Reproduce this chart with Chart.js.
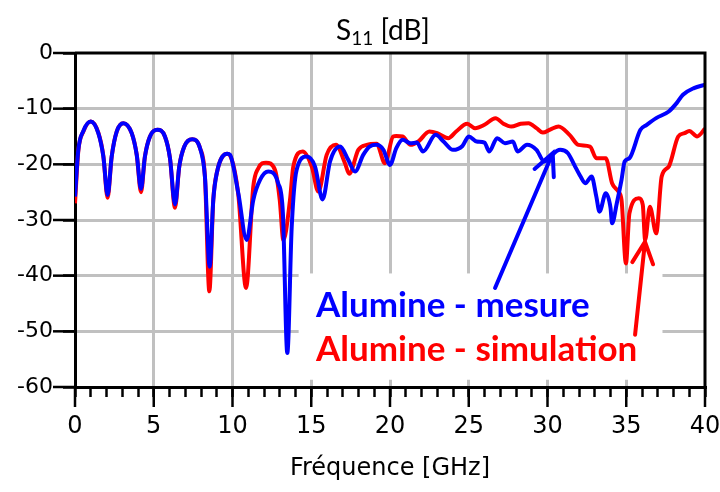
<!DOCTYPE html>
<html>
<head>
<meta charset="utf-8">
<script src="https://cdn.jsdelivr.net/npm/chart.js@4.4.1/dist/chart.umd.min.js"></script>
<style>
  html, body { margin: 0; padding: 0; background: #fff; }
  #wrap { width: 720px; height: 492px; }
</style>
</head>
<body>
<div id="wrap"><canvas id="s11_chart" width="720" height="492"></canvas></div>
<script>
// simulation (red)
const freqSim = [0, 0.21, 0.53, 1.0, 1.48, 1.8, 2.07, 2.33, 2.65, 3.07, 3.6, 3.92, 4.19, 4.44, 4.76, 5.23, 5.71, 6.03, 6.35,
  6.62, 6.94, 7.45, 7.94, 8.25, 8.53, 8.78, 9.0, 9.67, 9.84, 10.37, 10.86, 11.32, 11.64, 12.13, 12.7, 13.0, 13.23,
  13.65, 13.86, 14.46, 15.03, 15.45, 15.98, 16.57, 17.14, 17.41, 17.99, 18.52, 19.15, 19.68, 20.2, 20.4, 20.8, 21.3,
  21.8, 22.5, 23.0, 23.7, 24.2, 24.9, 25.4, 26.0, 26.7, 27.2, 27.7, 28.3, 28.8, 29.3, 29.7, 30.2, 30.7, 31.4, 31.96,
  32.7, 33.1, 33.7, 34.1, 34.5, 34.7, 34.98, 35.2, 35.8, 36.05, 36.2, 36.5, 36.9, 37.25, 37.7, 38.3, 38.7, 39.0, 39.5, 40];
const s11Sim = [-27, -17.6, -14.1, -12.3, -14.3, -18.5, -26.0, -18.6, -14.1, -12.6, -14.4, -18.3, -25.0, -18.6, -15.0, -13.8, -15.0, -18.9, -27.8,
  -20.4, -16.8, -15.5, -17.1, -22.2, -42.8, -26.4, -21.6, -18.1, -18.4, -25.5, -42.2, -24.0, -20.7, -19.7, -21.0, -26.4, -33.6,
  -26.4, -20.4, -17.7, -20.4, -24.9, -18.3, -16.5, -19.8, -21.7, -17.4, -16.5, -16.3, -19.8, -15.0, -14.9, -15.0, -16.5,
  -15.9, -14.1, -14.4, -15.3, -14.1, -12.7, -13.5, -12.9, -11.7, -12.7, -13.2, -12.7, -12.6, -13.5, -14.3, -13.7, -13.2, -14.7, -16.5,
  -16.8, -18.9, -18.9, -23.4, -24.9, -26.4, -37.8, -28.8, -26.1, -27.3, -33.6, -27.6, -32.4, -22.2, -20.4, -15.0, -14.4, -14.0, -15.0, -13.6];

// mesure (blue)
const freqMes = [0, 0.21, 0.53, 1.0, 1.48, 1.8, 2.07, 2.33, 2.65, 3.07, 3.6, 3.92, 4.19, 4.44, 4.76, 5.23, 5.71, 6.03, 6.35,
  6.62, 6.94, 7.45, 7.94, 8.25, 8.55, 8.78, 9.0, 9.67, 9.84, 10.37, 10.9, 11.32, 11.75, 12.27, 12.9, 13.2, 13.48,
  13.76, 14.07, 14.71, 15.24, 15.72, 16.19, 16.83, 17.35, 17.78, 18.3, 18.7, 19.15, 19.58, 20.0, 20.4, 20.8, 21.3,
  21.7, 22.1, 22.9, 23.4, 24.0, 24.6, 25.0, 25.5, 26.0, 26.3, 26.8, 27.3, 27.8, 28.1, 28.7, 29.3, 29.8, 30.1, 30.8,
  31.3, 31.7, 32.1, 32.4, 32.8, 33.1, 33.3, 33.7, 34.0, 34.1, 34.4, 34.7, 34.9, 35.2, 35.9, 36.3, 36.9, 37.7, 38.2,
  38.6, 39.3, 40];
const s11Mes = [-25.8, -17.4, -14.0, -12.3, -14.4, -18.6, -25.5, -18.6, -14.1, -12.6, -14.4, -18.3, -24.4, -18.6, -15.0, -13.8, -15.0, -18.9, -27.2,
  -20.4, -16.8, -15.5, -17.1, -22.2, -38.4, -26.4, -21.6, -18.1, -18.3, -25.2, -33.6, -26.4, -22.8, -21.3, -23.4, -28.8, -53.9,
  -31.2, -21.0, -18.6, -20.4, -26.3, -19.5, -16.8, -19.2, -21.3, -18.3, -16.8, -16.5, -17.4, -20.1, -17.1, -15.6, -16.2,
  -16.1, -17.7, -14.7, -15.9, -17.4, -16.7, -15.0, -15.9, -16.1, -17.7, -15.3, -16.2, -15.9, -17.7, -16.5, -17.4, -19.5, -18.8, -17.4,
  -18.0, -20.1, -22.2, -23.4, -22.2, -25.8, -28.5, -25.2, -27.8, -30.6, -27.0, -22.8, -19.5, -18.9, -13.8, -12.9, -11.7, -10.5, -9.0,
  -7.5, -6.3, -5.7];

const toPoints = (xs, ys) => xs.map((x, i) => ({ x: x, y: ys[i] }));

const gridGray = '#c0c0c0';

const decorations = {
  id: 'decorations',
  beforeDatasetsDraw(chart) {
    const { ctx, scales: { x, y } } = chart;
    // white box behind the labels
    const x0 = x.getPixelForValue(14.2), x1 = x.getPixelForValue(37.3);
    const y0 = y.getPixelForValue(-39.6), y1 = y.getPixelForValue(-58.7);
    ctx.save();
    ctx.fillStyle = '#fff';
    ctx.fillRect(x0, y0, x1 - x0, y1 - y0);
    ctx.restore();
  },
  afterDatasetsDraw(chart) {
    const { ctx, chartArea: a, scales: { x, y } } = chart;
    ctx.save();
    // top and right frame
    ctx.strokeStyle = '#000';
    ctx.lineWidth = 3;
    ctx.beginPath();
    ctx.moveTo(a.left, a.top);
    ctx.lineTo(a.right, a.top);
    ctx.lineTo(a.right, a.bottom);
    ctx.stroke();
    // longer major ticks
    ctx.lineWidth = 2.5;
    for (let v = 0; v <= 40; v += 5) {
      const px = x.getPixelForValue(v);
      ctx.beginPath();
      ctx.moveTo(px, a.bottom);
      ctx.lineTo(px, a.bottom + 20);
      ctx.stroke();
    }
    for (let v = -60; v <= 0; v += 10) {
      const py = y.getPixelForValue(v);
      ctx.beginPath();
      ctx.moveTo(a.left - 22, py);
      ctx.lineTo(a.left, py);
      ctx.stroke();
    }
    // title S11 [dB]
    ctx.fillStyle = '#000';
    ctx.textBaseline = 'alphabetic';
    ctx.font = '28px Lato';
    const w1 = ctx.measureText('S').width;
    ctx.font = '19px Lato';
    const w2 = ctx.measureText('11').width;
    ctx.font = '28px Lato';
    const w3 = ctx.measureText(' [dB]').width;
    const tx = 383 - (w1 + w2 + w3) / 2;
    const ty = 40;
    ctx.fillText('S', tx, ty);
    ctx.font = '19px Lato';
    ctx.fillText('11', tx + w1, ty + 5);
    ctx.font = '28px Lato';
    ctx.fillText(' [dB]', tx + w1 + w2, ty);

    // annotations
    ctx.font = 'bold 35px Lato';
    ctx.fillStyle = '#0000ff';
    ctx.fillText('Alumine - mesure', x.getPixelForValue(15.3), y.getPixelForValue(-47.4));
    ctx.fillStyle = '#ff0000';
    ctx.fillText('Alumine - simulation', x.getPixelForValue(15.3), y.getPixelForValue(-55.3));

    const arrow = (fx, fy, tx2, ty2, color) => {
      const p0 = [x.getPixelForValue(fx), y.getPixelForValue(fy)];
      const p1 = [x.getPixelForValue(tx2), y.getPixelForValue(ty2)];
      const ang = Math.atan2(p1[1] - p0[1], p1[0] - p0[0]);
      ctx.strokeStyle = color;
      ctx.lineWidth = 4;
      ctx.lineCap = 'round';
      ctx.beginPath();
      ctx.moveTo(p0[0], p0[1]);
      ctx.lineTo(p1[0], p1[1]);
      ctx.moveTo(p1[0] - 24 * Math.cos(ang - 0.45), p1[1] - 24 * Math.sin(ang - 0.45));
      ctx.lineTo(p1[0], p1[1]);
      ctx.lineTo(p1[0] - 24 * Math.cos(ang + 0.45), p1[1] - 24 * Math.sin(ang + 0.45));
      ctx.stroke();
    };
    arrow(26.67, -42.2, 30.33, -18.0, '#0000ff');
    arrow(35.56, -50.6, 36.19, -33.9, '#ff0000');
    ctx.restore();
  }
};

new Chart(
  document.getElementById('s11_chart'),
  {
    type: 'line',
    data: {
      datasets: [
        {
          label: 'Alumine - mesure',
          data: toPoints(freqMes, s11Mes),
          borderColor: '#0000ff',
          borderWidth: 4,
          pointRadius: 0,
          cubicInterpolationMode: 'monotone'
        },
        {
          label: 'Alumine - simulation',
          data: toPoints(freqSim, s11Sim),
          borderColor: '#ff0000',
          borderWidth: 4,
          pointRadius: 0,
          cubicInterpolationMode: 'monotone'
        }
      ]
    },
    options: {
      responsive: false,
      animation: false,
      layout: { padding: { top: 53, right: 15, left: 0, bottom: 0 } },
      plugins: {
        legend: { display: false },
        tooltip: { enabled: false }
      },
      scales: {
        x: {
          type: 'linear',
          min: 0,
          max: 40,
          afterFit: (s) => { s.height = 105; s.paddingLeft = 0; s.paddingRight = 0; },
          ticks: {
            stepSize: 1,
            autoSkip: false,
            maxRotation: 0,
            color: '#000',
            padding: 15,
            font: { family: 'DejaVu Sans', size: 24 },
            callback: (v) => (v % 5 === 0 ? String(v) : '')
          },
          grid: {
            color: (c) => (c.tick && c.tick.value % 5 === 0 && c.tick.value > 0 && c.tick.value < 40 ? gridGray : 'rgba(0,0,0,0)'),
            lineWidth: 3,
            tickColor: '#000',
            tickLength: 10,
            tickWidth: 2.5
          },
          border: { color: '#000', width: 3 },
          title: {
            display: true,
            text: 'Fréquence [GHz]',
            color: '#000',
            font: { family: 'DejaVu Sans', size: 24 },
            padding: { top: 0, bottom: 9 }
          }
        },
        y: {
          min: -60,
          max: 0,
          afterFit: (s) => { s.width = 75; s.paddingTop = 0; s.paddingBottom = 0; },
          ticks: {
            stepSize: 5,
            color: '#000',
            padding: 10,
            font: { family: 'DejaVu Sans', size: 22 },
            callback: (v) => (v % 10 === 0 ? String(v) : '')
          },
          grid: {
            color: (c) => (c.tick && c.tick.value % 10 === 0 && c.tick.value > -60 && c.tick.value < 0 ? gridGray : 'rgba(0,0,0,0)'),
            lineWidth: 3,
            tickColor: '#000',
            tickLength: 12,
            tickWidth: 2.5
          },
          border: { color: '#000', width: 3 }
        }
      }
    },
    plugins: [decorations]
  }
);
</script>
</body>
</html>
